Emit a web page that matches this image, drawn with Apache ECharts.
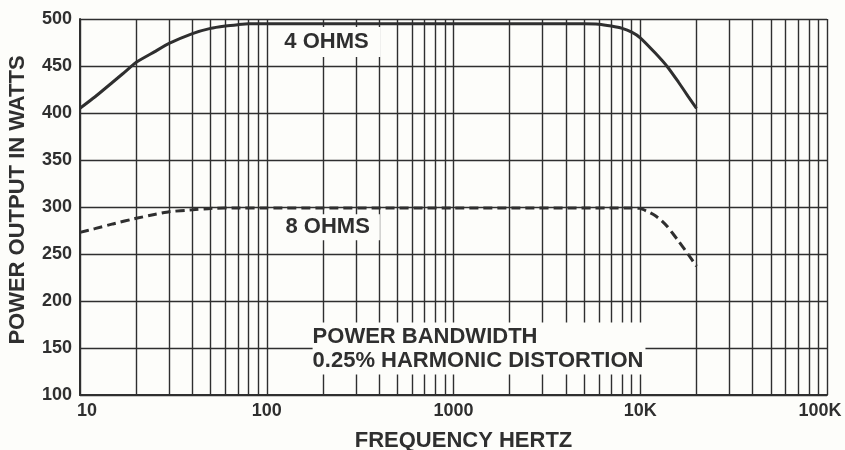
<!DOCTYPE html>
<html>
<head>
<meta charset="utf-8">
<script src="https://cdn.jsdelivr.net/npm/echarts@6/dist/echarts.min.js"></script>
<style>
html,body{margin:0;padding:0;background:#fdfdfa;}
#c{width:845px;height:450px;}
</style>
</head>
<body>
<div id="c"></div>
<script>
// Data
var freq4 = [10, 12, 15, 17, 20, 25, 30, 40, 50, 60, 70, 80, 100, 1000, 5000, 6000, 7000, 8000, 9000, 10000, 12000, 14000, 16000, 18000, 20000];
var watts4 = [405, 417, 433, 442, 454, 465, 474, 484.5, 490, 492.5, 494, 495, 495, 495, 495, 494.5, 492.5, 490, 486, 480, 464, 449, 433, 418, 405];
var freq8 = [10, 12, 15, 20, 25, 30, 40, 50, 70, 100, 1000, 9000, 10000, 11000, 12000, 13000, 14000, 16000, 18000, 20000];
var watts8 = [273, 277, 282, 288, 292, 295, 297, 298.5, 299, 299, 299, 299, 298.5, 295, 291, 285.5, 279, 264, 250, 237];
var minorFreqs = [20, 30, 40, 50, 60, 70, 80, 90,
  200, 300, 400, 500, 600, 700, 800, 900,
  2000, 3000, 4000, 5000, 6000, 7000, 8000, 9000,
  20000, 30000, 40000, 50000, 60000, 70000, 80000, 90000];
var xTickLabels = {10: '10', 100: '100', 1000: '1000', 10000: '10K', 100000: '100K'};
var yTicks = {min: 100, max: 500, interval: 50};

var ink = '#2f2f2f';
var bg = '#fdfdfa';
var font = 'Liberation Sans, Arial, sans-serif';

function pairs(xs, ys) { return xs.map(function (x, i) { return [x, ys[i]]; }); }

var chart = echarts.init(document.getElementById('c'), null, {renderer: 'canvas'});
chart.setOption({
  backgroundColor: bg,
  animation: false,
  grid: {left: 80, right: 18, top: 19, bottom: 55, show: false, containLabel: false, outerBoundsMode: 'none'},
  xAxis: {
    type: 'log', logBase: 10, min: 10, max: 100000,
    name: 'FREQUENCY HERTZ', nameLocation: 'middle', nameGap: 35,
    nameTextStyle: {color: ink, fontSize: 22, fontWeight: 'bold', fontFamily: font, padding: [0, 0, 0, 20]},
    axisLine: {show: true, lineStyle: {color: ink, width: 2}},
    axisTick: {show: false},
    axisLabel: {
      color: ink, fontSize: 18, fontWeight: 'bold', fontFamily: font, margin: 7,
      formatter: function (v) {
        var t = xTickLabels[Math.round(v)] || '';
        if (Math.round(v) === 10) return '{l|' + t + '}';
        if (Math.round(v) === 100000) return '{r|' + t + '}';
        return t;
      },
      rich: {
        l: {padding: [0, 0, 0, 14], color: ink, fontSize: 18, fontWeight: 'bold', fontFamily: font},
        r: {padding: [0, 14, 0, 0], color: ink, fontSize: 18, fontWeight: 'bold', fontFamily: font}
      }
    },
    splitLine: {show: true, lineStyle: {color: ink, width: 1.4}},
    minorTick: {show: false},
    minorSplitLine: {show: false}
  },
  yAxis: {
    type: 'value', min: yTicks.min, max: yTicks.max, interval: yTicks.interval,
    name: 'POWER OUTPUT IN WATTS', nameLocation: 'middle', nameGap: 51, nameRotate: 90,
    nameTextStyle: {color: ink, fontSize: 22, fontWeight: 'bold', fontFamily: font, padding: [0, 0, 0, 14]},
    axisLine: {show: true, lineStyle: {color: ink, width: 2}},
    axisTick: {show: false},
    axisLabel: {color: ink, fontSize: 18, fontWeight: 'bold', fontFamily: font, margin: 8},
    splitLine: {show: true, lineStyle: {color: ink, width: 1.4}}
  },
  series: [
    {
      name: '4 OHMS', type: 'line', data: pairs(freq4, watts4),
      smooth: 0.15, symbol: 'none', z: 3,
      lineStyle: {color: ink, width: 3},
      markPoint: {
        z: 10, silent: true, symbol: 'circle', symbolSize: 0,
        data: [
          {coord: [209, 475.5], value: '4 OHMS'}
        ],
        label: {
          show: true, position: 'inside', formatter: '4 OHMS',
          color: ink, fontSize: 22, fontWeight: 'bold', fontFamily: font,
          backgroundColor: bg, padding: [4, 12]
        }
      }
    },
    {
      name: '8 OHMS', type: 'line', data: pairs(freq8, watts8),
      smooth: 0.15, symbol: 'none', z: 3,
      lineStyle: {color: ink, width: 3, type: [9, 5]},
      markLine: {
        z: 1, silent: true, symbol: ['none', 'none'], animation: false,
        label: {show: false},
        lineStyle: {type: 'solid', color: ink, width: 1.4},
        emphasis: {disabled: true},
        data: minorFreqs.map(function (f) { return {xAxis: f}; })
      },
      markPoint: {
        z: 10, silent: true, symbol: 'circle', symbolSize: 0,
        data: [
          {coord: [212, 278.5], name: 'a', label: {position: 'inside', formatter: '8 OHMS', padding: [2, 10]}},
          {coord: [176, 149.5], name: 'b', label: {position: 'right', distance: 0, align: 'left',
            formatter: 'POWER BANDWIDTH\n0.25% HARMONIC DISTORTION', lineHeight: 24, padding: [2, 2, 2, 0]}}
        ],
        label: {
          show: true, color: ink, fontSize: 22, fontWeight: 'bold', fontFamily: font,
          backgroundColor: bg
        }
      }
    }
  ]
});
</script>
</body>
</html>
